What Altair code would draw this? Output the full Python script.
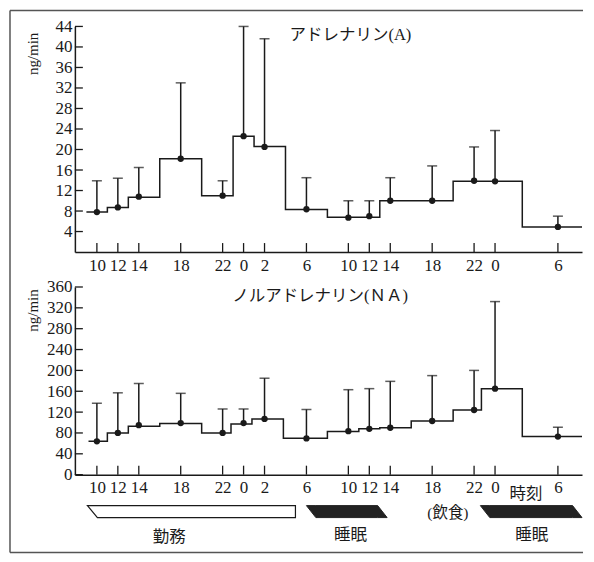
import altair as alt
import pandas as pd

# ---------------- data ----------------
sample_hours = [10, 12, 14, 18, 22, 24, 26, 30, 34, 36, 38, 42, 46, 48, 54]

a_mean = [7.8, 8.7, 10.8, 18.2, 11.0, 22.6, 20.5, 8.35, 6.7, 7.0, 10.0, 10.0, 13.9, 13.8, 4.9]
a_upper = [13.9, 14.4, 16.5, 33.0, 13.9, 44.0, 41.6, 14.5, 10.0, 10.0, 14.5, 16.8, 20.5, 23.7, 7.0]
a_step_edges = [9, 11, 13, 16, 20, 23, 25, 28, 32, 37, 44, 50.6, 56.3]
a_step_levels = [7.8, 8.7, 10.7, 18.2, 11.0, 22.6, 20.6, 8.3, 6.8, 10.0, 13.8, 4.9]
a_yticks = [4, 8, 12, 16, 20, 24, 28, 32, 36, 40, 44]

na_mean = [64, 80, 95, 99, 80, 99, 107, 69.5, 83.5, 88, 90, 103, 124, 165, 73]
na_upper = [137, 157, 175, 156, 126, 126, 185, 125, 163, 165, 179, 190, 200, 332, 91]
na_step_edges = [9.2, 11, 13, 16, 20, 22.8, 24.8, 27.8, 32, 35, 37, 40, 44, 46.7, 50.6, 56.3]
na_step_levels = [64, 80, 93, 98, 80, 97, 107, 70, 83, 88, 90, 103, 124, 165, 73]
na_yticks = [0, 40, 80, 120, 160, 200, 240, 280, 320, 360]

work_period = (9.1, 28.95)
sleep_periods = [(30.0, 36.8), (46.6, 55.4)]
legend_labels = ["勤務", "睡眠", "睡眠", "(飲食)", "時刻"]
legend_label_t = [16.9, 34.2, 51.5, 43.5, 50.95]

x_domain = [7.9, 56.3]

# ---------------- style ----------------
INK = "#1a1a1a"
SERIF = "Liberation Serif, Noto Sans CJK JP"
W = 508

xscale = alt.Scale(domain=x_domain, nice=False, zero=False)


def make_panel(mean, upper, edges, levels, yticks, ymax, height, title, title_t, title_v, frame=False):
    pts = pd.DataFrame({"t": sample_hours, "v": mean, "u": upper})
    steps = pd.DataFrame({"t": edges, "v": levels + [levels[-1]]})
    xt = pd.DataFrame({"t": sample_hours})
    yt = pd.DataFrame({"v": yticks})
    ttl = pd.DataFrame({"t": [title_t], "v": [title_v], "label": [title]})

    yscale = alt.Scale(domain=[0, ymax], nice=False, zero=True)
    x_axis = alt.Axis(values=sample_hours, labelExpr="datum.value % 24", ticks=False, tickSize=0,
                      grid=False, domainColor=INK, domainWidth=1.5, labelFont=SERIF,
                      labelFontSize=17, labelColor=INK, labelPadding=5, labelOverlap=False,
                      labelFlush=False)
    y_axis = alt.Axis(values=yticks, ticks=False, tickSize=0, grid=False, domainColor=INK,
                      domainWidth=1.5, labelFont=SERIF, labelFontSize=17, labelColor=INK,
                      labelPadding=3, labelOverlap=False, labelFlush=False,
                      titleFont=SERIF, titleFontSize=15, titleFontWeight="normal", titleColor=INK,
                      titleAngle=270, titleAlign="center", titleBaseline="middle",
                      titleX=-42, titleY=(27 if ymax < 100 else 23))

    X = alt.X("t:Q", scale=xscale, axis=x_axis, title=None)

    def Y(f):
        return alt.Y(f, scale=yscale, axis=y_axis, title="ng/min")

    step = alt.Chart(steps).mark_line(interpolate="step-after", color=INK, strokeWidth=1.5).encode(
        x=X, y=Y("v:Q"))
    err = alt.Chart(pts).mark_rule(color=INK, strokeWidth=1.5).encode(x=X, y=Y("v:Q"), y2="u:Q")
    cap = alt.Chart(pts).mark_tick(orient="horizontal", color=INK, size=10, thickness=1.5).encode(
        x=X, y=Y("u:Q"))
    dots = alt.Chart(pts).mark_circle(color=INK, size=40, opacity=1).encode(x=X, y=Y("v:Q"))
    xticks = alt.Chart(xt).mark_rule(color=INK, strokeWidth=1.3).encode(
        x=X, y=alt.value(height - 9), y2=alt.value(height))
    yticks_l = alt.Chart(yt).mark_rule(color=INK, strokeWidth=1.3).encode(
        y=Y("v:Q"), x=alt.value(0), x2=alt.value(8))
    label = alt.Chart(ttl).mark_text(font=SERIF, fontSize=16.5, color=INK, align="center",
                                     baseline="middle").encode(x=X, y=Y("v:Q"), text="label:N")
    layers = [step, err, cap, dots, xticks, yticks_l, label]
    if frame:
        one = pd.DataFrame({"k": [0]})
        fl = alt.Chart(one).mark_rule(color="#555", strokeWidth=1.5)
        layers += [
            fl.encode(x=alt.value(-65), y=alt.value(-16), y2=alt.value(527)),
            fl.encode(x=alt.value(-65), x2=alt.value(509), y=alt.value(-16)),
            fl.encode(x=alt.value(-65), x2=alt.value(509), y=alt.value(527)),
        ]
    return alt.layer(*layers).properties(width=W, height=height)


top = make_panel(a_mean, a_upper, a_step_edges, a_step_levels, a_yticks, 44, 226,
                 "アドレナリン(A)", 34.2, 42.4, frame=True)
bottom = make_panel(na_mean, na_upper, na_step_edges, na_step_levels, na_yticks, 360, 188,
                    "ノルアドレナリン(ＮＡ)", 31.3, 343)

# ---------------- schedule bars below the axis ----------------
BAR_TOP, BAR_BOT, SLANT = 25, 37, 0.9
rows = []
w0, w1 = work_period
rows += [dict(id="w", kind="work", t=w0, top=BAR_TOP, bot=BAR_TOP),
         dict(id="w", kind="work", t=w0 + SLANT + 0.05, top=BAR_TOP, bot=BAR_BOT),
         dict(id="w", kind="work", t=w1, top=BAR_TOP, bot=BAR_BOT)]
for i, (s0, s1) in enumerate(sleep_periods):
    rows += [dict(id=f"s{i}", kind="sleep", t=s0, top=BAR_TOP, bot=BAR_TOP),
             dict(id=f"s{i}", kind="sleep", t=s0 + SLANT, top=BAR_TOP, bot=BAR_BOT),
             dict(id=f"s{i}", kind="sleep", t=s1, top=BAR_TOP, bot=BAR_BOT),
             dict(id=f"s{i}", kind="sleep", t=s1 + SLANT, top=BAR_BOT, bot=BAR_BOT)]
bars = pd.DataFrame(rows)
label_y = [56, 54, 54, 32, 13]
labels = pd.DataFrame({"label": legend_labels, "t": legend_label_t, "u": label_y,
                       "fs": [16.5, 16.5, 16.5, 15.5, 16.5]})

ly = alt.Scale(domain=[29, 69], reverse=True, nice=False, zero=False)
LX = alt.X("t:Q", scale=xscale, axis=None)
work_bar = alt.Chart(bars[bars.kind == "work"]).mark_area(
    orient="vertical", fill="white", stroke=INK, strokeWidth=1.2, opacity=1).encode(
    x=LX, y=alt.Y("top:Q", scale=ly, axis=None), y2="bot:Q", detail="id:N")
sleep_bar = alt.Chart(bars[bars.kind == "sleep"]).mark_area(
    orient="vertical", fill="#222222", stroke="#222222", strokeWidth=1, opacity=1).encode(
    x=LX, y=alt.Y("top:Q", scale=ly, axis=None), y2="bot:Q", detail="id:N")
legend_text = alt.Chart(labels).mark_text(font=SERIF, color=INK, align="center",
                                          baseline="middle").encode(
    x=LX, y=alt.Y("u:Q", scale=ly, axis=None), text="label:N",
    size=alt.Size("fs:Q", scale=None, legend=None))
legend_panel = alt.layer(work_bar, sleep_bar, legend_text).properties(width=W, height=40)

chart = alt.vconcat(top, bottom, legend_panel, spacing=35, bounds="flush").properties(
    padding={"left": 1, "top": 1, "right": 1, "bottom": 1},
    background="white",
).configure_view(strokeWidth=0)

chart.save("out.html", embed_options={"renderer": "svg", "actions": False})
